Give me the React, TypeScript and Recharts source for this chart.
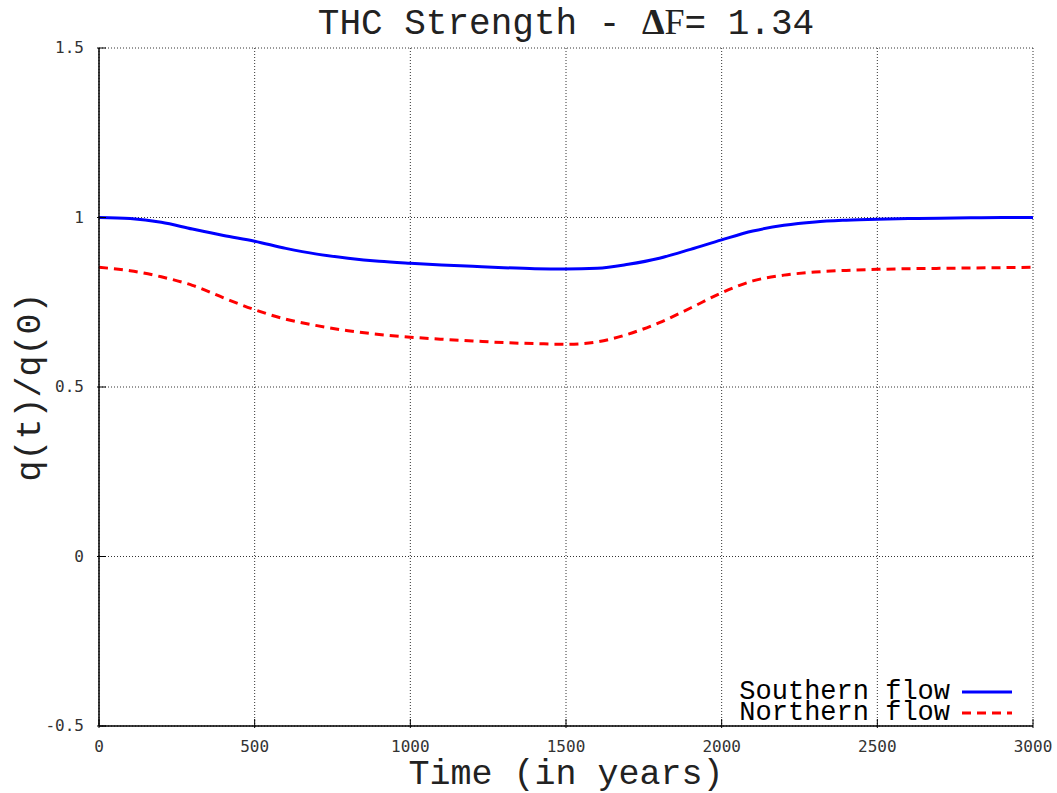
import React from 'react'
import {
  LineChart, Line, XAxis, YAxis, CartesianGrid, Label
} from 'recharts'

const years = [
  0, 100, 200, 300, 400, 500, 600, 700, 800, 900, 1000, 1100, 1200, 1300, 1400, 1500,
  1600, 1700, 1800, 1900, 2000, 2100, 2200, 2300, 2400, 2500, 2600, 2700, 2800, 2900, 3000,
]
const southern = [
  1.0, 0.997, 0.986, 0.966, 0.947, 0.93, 0.909, 0.892, 0.88, 0.871, 0.865, 0.86, 0.856, 0.852, 0.849, 0.848,
  0.85, 0.862, 0.88, 0.906, 0.934, 0.96, 0.977, 0.987, 0.992, 0.995, 0.997, 0.998, 0.999, 1.0, 1.0,
]
const northern = [
  0.853, 0.843, 0.825, 0.8, 0.763, 0.728, 0.7, 0.681, 0.666, 0.655, 0.647, 0.641, 0.636, 0.631, 0.628, 0.626,
  0.633, 0.656, 0.69, 0.733, 0.778, 0.813, 0.83, 0.839, 0.844, 0.847, 0.849, 0.85, 0.851, 0.852, 0.853,
]
const xTicks = [0, 500, 1000, 1500, 2000, 2500, 3000]
const yTicks = [-0.5, 0, 0.5, 1, 1.5]

const data = years.map((y, i) => ({ year: y, south: southern[i], north: northern[i] }))

const MONO = '"Liberation Mono", "Courier New", Cousine, "Nimbus Mono PS", FreeMono, "DejaVu Sans Mono", monospace'
const TICK_FONT = '"DejaVu Sans Mono", monospace'

function XTick(props: any) {
  const { x, y, payload } = props
  return (
    <g>
      <line x1={x} x2={x} y1={y} y2={y - 9} stroke="#000" />
      <text x={x} y={y + 24} textAnchor="middle" fontSize={16} fontFamily={TICK_FONT} fill="#333">
        {payload.value}
      </text>
    </g>
  )
}

function YTick(props: any) {
  const { x, y, payload } = props
  return (
    <g>
      <line x1={x} x2={x + 9} y1={y} y2={y} stroke="#000" />
      <text x={x - 13} y={y + 5} textAnchor="end" fontSize={16} fontFamily={TICK_FONT} fill="#333">
        {payload.value}
      </text>
    </g>
  )
}

function LegendBox() {
  const row = (label: string, color: string, dash?: string) => (
    <div style={{ display: 'flex', alignItems: 'center', height: 21, justifyContent: 'flex-end' }}>
      <span style={{ fontFamily: MONO, fontSize: 27, lineHeight: '21px', color: '#000', whiteSpace: 'pre' }}>{label}</span>
      <svg width={62} height={21}>
        <line x1={12} x2={62} y1={10} y2={10} stroke={color} strokeWidth={3} strokeDasharray={dash} />
      </svg>
    </div>
  )
  return (
    <div>
      {row('Southern flow', '#0000ff')}
      {row('Northern flow', '#ff0000', '9 6')}
    </div>
  )
}

export default function App() {
  return (
    <div style={{ position: 'absolute', left: 0, top: 0, width: 1057, height: 793, background: '#fff' }}>
      <div
        style={{
          position: 'absolute', left: 99, width: 934, top: 1, textAlign: 'center',
          fontFamily: MONO, fontSize: 36, color: '#222', lineHeight: '42px', whiteSpace: 'pre',
        }}
      >
        THC Strength - <span style={{ fontFamily: '"Liberation Serif", serif', fontWeight: 'bold' }}>Δ</span>
        <span style={{ fontFamily: '"Liberation Serif", serif' }}>F</span>= 1.34
      </div>
      <LineChart
        width={1057}
        height={793}
        data={data}
        margin={{ top: 48, right: 24, left: 0, bottom: 0 }}
      >
        <CartesianGrid stroke="#333" strokeDasharray="1 2" strokeWidth={1} />
        <XAxis
          dataKey="year"
          type="number"
          domain={[0, 3000]}
          ticks={xTicks}
          height={67}
          tickLine={false}
          tickSize={0}
          tick={<XTick />}
          axisLine={{ stroke: '#000', strokeWidth: 1.5 }}
        >
          <Label
            value="Time (in years)"
            position="insideBottom"
            offset={9}
            style={{ fontFamily: MONO, fontSize: 35, fill: '#222' }}
          />
        </XAxis>
        <XAxis
          xAxisId="top"
          orientation="top"
          dataKey="year"
          type="number"
          domain={[0, 3000]}
          height={0}
          tick={false}
          tickLine={false}
          axisLine={{ stroke: '#000', strokeWidth: 1.5 }}
        />
        <YAxis
          type="number"
          domain={[-0.5, 1.5]}
          ticks={yTicks}
          width={99}
          tickLine={false}
          tickSize={0}
          tick={<YTick />}
          axisLine={{ stroke: '#000', strokeWidth: 1.5 }}
        >
          <Label
            value="q(t)/q(0)"
            angle={-90}
            position="insideLeft"
            offset={28}
            style={{ fontFamily: MONO, fontSize: 35, fill: '#222', textAnchor: 'middle' }}
          />
        </YAxis>
        <YAxis
          yAxisId="right"
          orientation="right"
          type="number"
          domain={[-0.5, 1.5]}
          width={0}
          tick={false}
          tickLine={false}
          axisLine={{ stroke: '#000', strokeWidth: 1.5 }}
        />
        <Line
          type="monotone"
          dataKey="south"
          name="Southern flow"
          stroke="#0000ff"
          strokeWidth={3}
          dot={false}
          isAnimationActive={false}
        />
        <Line
          type="monotone"
          dataKey="north"
          name="Northern flow"
          stroke="#ff0000"
          strokeWidth={3}
          strokeDasharray="9 6"
          dot={false}
          isAnimationActive={false}
        />
      </LineChart>
      <div style={{ position: 'absolute', left: 600, top: 682, width: 412 }}>
        <LegendBox />
      </div>
    </div>
  )
}
